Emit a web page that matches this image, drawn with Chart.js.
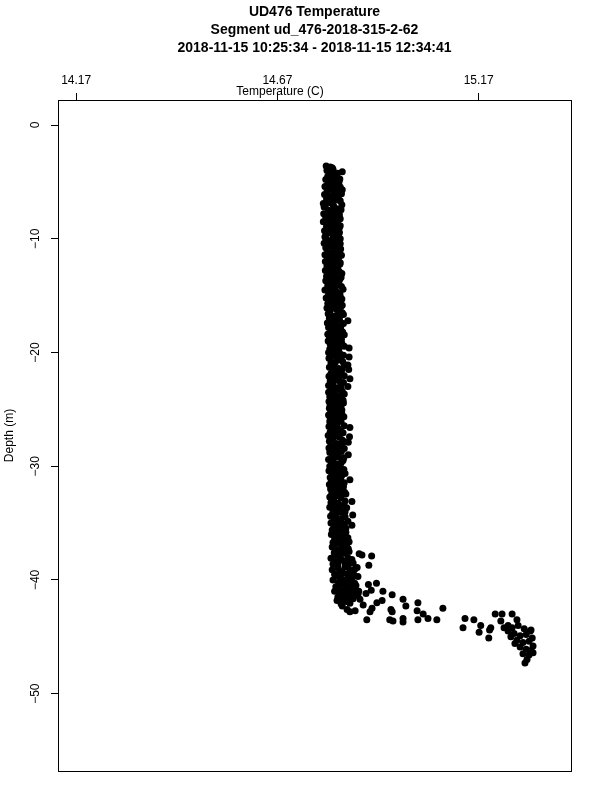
<!DOCTYPE html>
<html>
<head>
<meta charset="utf-8">
<script src="https://cdn.jsdelivr.net/npm/chart.js@4.4.0/dist/chart.umd.min.js"></script>
<style>
  html, body { margin: 0; padding: 0; background: #fff; }
</style>
</head>
<body>
<canvas id="profile" width="600" height="800"></canvas>
<script>
var titleLines = ["UD476 Temperature", "Segment ud_476-2018-315-2-62", "2018-11-15 10:25:34 - 2018-11-15 12:34:41"];
var xTicks = [14.17, 14.67, 15.17];
var yTicks = [0, -10, -20, -30, -40, -50];

// upper mixed layer
var colDepth = [
  -3.6, -3.7, -3.8, -3.9, -4.0, -4.1, -4.3, -4.4,
  -4.5, -4.6, -4.8, -4.9, -5.0, -5.1, -5.3, -5.4,
  -5.5, -5.6, -5.7, -5.9, -6.0, -6.1, -6.2, -6.4,
  -6.5, -6.6, -6.7, -6.9, -7.0, -7.1, -7.2, -7.4,
  -7.5, -7.6, -7.8, -7.9, -8.0, -8.1, -8.3, -8.4,
  -8.5, -8.6, -8.8, -8.9, -9.0, -9.1, -9.3, -9.4,
  -9.5, -9.6, -9.8, -9.9, -10.0, -10.1, -10.3, -10.4,
  -10.5, -10.6, -10.8, -10.9, -11.0, -11.2, -11.3, -11.4,
  -11.6, -11.7, -11.8, -12.0, -12.1, -12.2, -12.4, -12.5,
  -12.6, -12.8, -12.9, -13.0, -13.2, -13.3, -13.4, -13.6,
  -13.7, -13.8, -14.0, -14.1, -14.2, -14.4, -14.5, -14.6,
  -14.8, -14.9, -15.0, -15.2, -15.3, -15.4, -15.6, -15.7,
  -15.8, -16.0, -16.1, -16.2, -16.4, -16.5, -16.6, -16.8,
  -16.9, -17.0, -17.2, -17.3, -17.4, -17.6, -17.7, -17.8,
  -18.0, -18.1, -18.2, -18.4, -18.5, -18.6, -18.8, -18.9,
  -19.0, -19.2, -19.3, -19.4, -19.6, -19.7, -19.8, -20.0,
  -20.1, -20.2, -20.4, -20.5, -20.6, -20.8, -20.9, -21.0,
  -21.1, -21.3, -21.4, -21.5, -21.7, -21.8, -21.9, -22.1,
  -22.2, -22.3, -22.5, -22.6, -22.7, -22.9, -23.0, -23.1,
  -23.3, -23.4, -23.5, -23.7, -23.8, -23.9, -24.1, -24.2,
  -24.3, -24.5, -24.6, -24.7, -24.9, -25.0, -25.1, -25.3,
  -25.4, -25.5, -25.7, -25.8, -25.9, -26.1, -26.2, -26.3,
  -26.5, -26.6, -26.7, -26.9, -27.0, -27.1, -27.3, -27.4,
  -27.5, -27.7, -27.8, -27.9, -28.0, -28.2, -28.3, -28.4,
  -28.6, -28.7, -28.8, -29.0, -29.1, -29.2, -29.4, -29.5,
  -29.6, -29.8, -29.9, -30.0, -30.2, -30.3, -30.4, -30.6,
  -30.7, -30.8, -31.0, -31.1, -31.2, -31.4, -31.5, -31.6,
  -31.8, -31.9, -32.0, -32.2, -32.3, -32.4, -32.6, -32.7,
  -32.8, -33.0, -33.1, -33.2, -33.4, -33.5, -33.6, -33.8,
  -33.9, -34.0, -34.2, -34.3, -34.4, -34.6, -34.7, -34.8,
  -35.0, -35.1, -35.2, -35.4, -35.5, -35.6, -35.8, -35.9,
  -36.0, -36.2, -36.3, -36.4, -36.6, -36.7, -36.8, -37.0,
  -37.1, -37.2, -37.4, -37.5, -37.6, -37.7, -37.8, -37.9,
  -38.0, -38.1, -38.2, -38.4, -38.5, -38.6, -38.7, -38.9,
  -39.0, -39.1, -39.2, -39.4, -39.5, -39.6, -39.8, -39.9,
  -40.0, -40.1, -40.2, -40.4, -40.5, -40.6, -40.8, -40.9,
  -41.0, -41.1, -41.2, -41.3, -41.4, -41.5, -41.6, -41.7,
  -38.9, -39.3, -39.7, -40.3, -40.7, -41.0, -41.4, -41.9,
  -3.75, -4.05, -4.25, -4.55, -4.75, -5.05, -5.25, -5.45,
  -5.65, -5.85, -6.05, -6.25, -6.45, -6.65, -6.85, -7.05,
  -7.25, -7.45, -7.65, -7.85, -8.05, -8.25, -8.45, -8.65,
  -8.85, -9.05, -9.25, -9.45, -9.65, -9.85, -10.05, -10.25,
  -10.45, -10.65, -10.85, -11.05, -11.25, -11.45, -11.65, -11.85,
  -12.05, -12.25, -12.45, -12.65, -12.85, -13.05, -13.25, -13.45,
  -13.65, -13.85, -14.05, -14.25, -14.45, -14.65, -14.85, -15.05,
  -15.25, -15.45, -15.65, -15.85, -16.05, -16.25, -16.45, -16.65,
  -16.85, -17.05, -17.25, -17.45, -17.65, -17.85, -18.05, -18.25,
  -18.45, -18.65, -18.85, -19.05, -19.25, -19.45, -19.65, -19.85,
  -20.05, -20.25, -20.45, -20.65, -20.85, -21.05, -21.25, -21.45,
  -21.65, -21.85, -22.05, -22.25, -22.45, -22.65, -22.85, -23.05,
  -23.25, -23.45, -23.65, -23.85, -24.05, -24.25, -24.45, -24.65,
  -24.85, -25.05, -25.25, -25.45, -25.65, -25.85, -26.05, -26.25,
  -26.45, -26.65, -26.85, -27.05, -27.25, -27.45, -27.65, -27.85,
  -28.05, -28.25, -28.45, -28.65, -28.85, -29.05, -29.25, -29.45,
  -29.65, -29.85, -30.05, -30.25, -30.45, -30.65, -30.85, -31.05,
  -31.25, -31.45, -31.65, -31.85, -32.05, -32.25, -32.45, -32.65,
  -32.85, -33.05, -33.25, -33.45, -33.65, -33.85, -34.05, -34.25,
  -34.45, -34.65, -34.85, -35.05, -35.25, -35.45, -35.65, -35.85,
  -36.05, -36.25, -36.45, -36.65, -36.85, -37.05, -37.25, -37.45,
  -37.65, -37.85, -38.05, -38.25, -38.45, -38.65, -38.85, -39.05,
  -39.25, -39.45, -39.65, -39.85, -40.05, -40.25, -40.45, -40.65,
  -40.85, -41.05, -41.25, -41.45, -41.65, -41.85, -42.05, -41.25
];
var colTemp = [
  14.791, 14.801, 14.796, 14.808, 14.793, 14.831, 14.803, 14.812,
  14.795, 14.818, 14.790, 14.806, 14.823, 14.799, 14.811, 14.788,
  14.816, 14.802, 14.831, 14.794, 14.810, 14.787, 14.822, 14.805,
  14.792, 14.817, 14.800, 14.784, 14.830, 14.809, 14.786, 14.821,
  14.797, 14.812, 14.785, 14.824, 14.803, 14.790, 14.815, 14.798,
  14.784, 14.819, 14.806, 14.792, 14.824, 14.800, 14.787, 14.813,
  14.798, 14.822, 14.789, 14.809, 14.826, 14.794, 14.815, 14.786,
  14.804, 14.819, 14.790, 14.827, 14.808, 14.795, 14.816, 14.788,
  14.823, 14.799, 14.811, 14.789, 14.826, 14.803, 14.793, 14.817,
  14.807, 14.789, 14.824, 14.798, 14.813, 14.792, 14.828, 14.804,
  14.790, 14.819, 14.809, 14.795, 14.829, 14.801, 14.788, 14.815,
  14.825, 14.797, 14.810, 14.791, 14.830, 14.804, 14.818, 14.795,
  14.808, 14.827, 14.793, 14.816, 14.800, 14.831, 14.796, 14.812,
  14.822, 14.799, 14.845, 14.806, 14.794, 14.828, 14.813, 14.797,
  14.819, 14.803, 14.832, 14.795, 14.811, 14.825, 14.799, 14.816,
  14.796, 14.830, 14.807, 14.821, 14.848, 14.800, 14.814, 14.797,
  14.825, 14.808, 14.848, 14.798, 14.818, 14.832, 14.803, 14.811,
  14.845, 14.799, 14.822, 14.847, 14.806, 14.815, 14.829, 14.798,
  14.812, 14.850, 14.801, 14.826, 14.808, 14.797, 14.845, 14.819,
  14.803, 14.831, 14.797, 14.814, 14.824, 14.800, 14.809, 14.833,
  14.798, 14.818, 14.806, 14.828, 14.799, 14.813, 14.822, 14.802,
  14.830, 14.797, 14.815, 14.808, 14.826, 14.800, 14.819, 14.805,
  14.798, 14.850, 14.812, 14.827, 14.801, 14.818, 14.796, 14.849,
  14.809, 14.831, 14.799, 14.846, 14.816, 14.803, 14.825, 14.798,
  14.813, 14.829, 14.800, 14.846, 14.807, 14.820, 14.797, 14.833,
  14.804, 14.817, 14.826, 14.800, 14.811, 14.835, 14.798, 14.821,
  14.806, 14.830, 14.801, 14.816, 14.850, 14.809, 14.825, 14.799,
  14.834, 14.812, 14.802, 14.822, 14.837, 14.805, 14.817, 14.800,
  14.828, 14.810, 14.855, 14.803, 14.835, 14.819, 14.800, 14.826,
  14.808, 14.838, 14.815, 14.857, 14.802, 14.829, 14.811, 14.821,
  14.803, 14.836, 14.855, 14.814, 14.826, 14.806, 14.840, 14.818,
  14.804, 14.829, 14.845, 14.812, 14.835, 14.808, 14.822, 14.842,
  14.806, 14.831, 14.818, 14.848, 14.811, 14.873, 14.880, 14.904,
  14.826, 14.803, 14.855, 14.815, 14.838, 14.808, 14.897, 14.846,
  14.821, 14.806, 14.852, 14.833, 14.812, 14.860, 14.827, 14.843,
  14.808, 14.855, 14.822, 14.836, 14.865, 14.815, 14.848, 14.830,
  14.812, 14.858, 14.838, 14.826, 14.850, 14.820, 14.845, 14.834,
  14.868, 14.858, 14.870, 14.862, 14.853, 14.872, 14.862, 14.842,
  14.806, 14.798, 14.819, 14.803, 14.825, 14.809, 14.795, 14.826,
  14.793, 14.818, 14.829, 14.797, 14.812, 14.826, 14.803, 14.789,
  14.812, 14.828, 14.800, 14.789, 14.818, 14.826, 14.807, 14.795,
  14.826, 14.810, 14.801, 14.824, 14.808, 14.788, 14.815, 14.804,
  14.826, 14.796, 14.813, 14.822, 14.802, 14.829, 14.808, 14.794,
  14.816, 14.825, 14.799, 14.820, 14.809, 14.830, 14.801, 14.815,
  14.824, 14.800, 14.821, 14.812, 14.833, 14.798, 14.811, 14.826,
  14.813, 14.825, 14.805, 14.831, 14.810, 14.800, 14.822, 14.834,
  14.805, 14.824, 14.815, 14.834, 14.802, 14.827, 14.810, 14.822,
  14.836, 14.807, 14.829, 14.814, 14.801, 14.836, 14.823, 14.806,
  14.817, 14.834, 14.802, 14.826, 14.814, 14.836, 14.809, 14.831,
  14.818, 14.803, 14.836, 14.822, 14.812, 14.834, 14.805, 14.828,
  14.818, 14.808, 14.836, 14.812, 14.826, 14.816, 14.834, 14.801,
  14.824, 14.830, 14.812, 14.821, 14.835, 14.801, 14.828, 14.811,
  14.836, 14.820, 14.806, 14.833, 14.814, 14.824, 14.803, 14.836,
  14.827, 14.812, 14.836, 14.803, 14.822, 14.814, 14.835, 14.808,
  14.829, 14.806, 14.820, 14.826, 14.812, 14.838, 14.815, 14.827,
  14.804, 14.836, 14.819, 14.807, 14.829, 14.813, 14.840, 14.826,
  14.805, 14.838, 14.820, 14.810, 14.842, 14.816, 14.827, 14.806,
  14.838, 14.819, 14.845, 14.824, 14.810, 14.840, 14.830, 14.806,
  14.818, 14.840, 14.827, 14.848, 14.812, 14.832, 14.846, 14.824,
  14.836, 14.815, 14.845, 14.830, 14.852, 14.820, 14.838, 14.862,
  14.826, 14.845, 14.815, 14.855, 14.836, 14.848, 14.822, 14.840,
  14.860, 14.826, 14.846, 14.835, 14.858, 14.828, 14.850, 14.870
];

// thermocline and the warm bottom water
var tailDepth = [
  -38.5, -40.4, -40.3, -40.9, -41.0, -41.3, -41.7, -42.0,
  -42.5, -41.8, -42.3, -42.6, -42.8, -42.7, -43.0, -43.4,
  -43.5, -43.5, -43.4, -43.7, -43.5, -43.6, -43.5, -42.5,
  -42.8, -42.0, -41.7, -42.8, -42.7, -42.2, -41.2, -41.8,
  -42.1, -42.3, -42.6,
  -43.4, -43.5, -44.2, -44.0, -44.6, -44.2, -44.4, -45.1,
  -43.0, -43.0, -43.0, -43.6, -44.2, -44.0, -43.5, -44.0,
  -44.4, -44.2, -44.3, -44.5, -44.7, -44.9, -44.8, -45.1,
  -45.3, -45.5, -45.4, -45.8, -45.9, -46.1, -46.2, -46.5,
  -46.6, -46.4, -47.0, -47.3, -44.5, -45.0, -45.6
];
var tailTemp = [
  14.858, 14.896, 14.916, 14.903, 14.932, 14.955, 14.982, 15.019,
  15.081, 14.930, 14.989, 14.952, 14.955, 15.017, 15.032, 15.044,
  15.066, 15.019, 14.982, 14.982, 14.949, 14.957, 14.892, 14.905,
  14.900, 14.917, 14.875, 14.850, 14.863, 14.883, 14.890, 14.818,
  14.828, 14.831, 14.843,
  15.136, 15.158, 15.131, 15.175, 15.171, 15.200, 15.197, 15.195,
  15.211, 15.228, 15.253, 15.225, 15.233, 15.243, 15.265, 15.268,
  15.300, 15.253, 15.283, 15.298, 15.258, 15.273, 15.288, 15.303,
  15.265, 15.280, 15.295, 15.305, 15.273, 15.288, 15.300, 15.280,
  15.295, 15.305, 15.290, 15.285, 15.243, 15.250, 15.260
];

var fontFamily = "'Liberation Sans', Arial, Helvetica, sans-serif";

var points = [];
colDepth.forEach(function(d, i){ points.push({x: colTemp[i], y: d}); });
tailDepth.forEach(function(d, i){ points.push({x: tailTemp[i], y: d}); });

// R style frame plus the x axis label that sits under the tick labels
var framePlugin = {
  id: 'frame',
  afterDraw: function(chart){
    var a = chart.chartArea;
    var ctx = chart.ctx;
    ctx.save();
    ctx.strokeStyle = '#000';
    ctx.lineWidth = 1;
    ctx.strokeRect(Math.round(a.left) + 0.5, Math.round(a.top) + 0.5,
      Math.round(a.right - a.left), Math.round(a.bottom - a.top));
    ctx.fillStyle = '#000';
    ctx.font = '12px ' + fontFamily;
    ctx.textAlign = 'center';
    ctx.textBaseline = 'alphabetic';
    ctx.fillText('Temperature (C)', 280, 95);
    ctx.restore();
  }
};

new Chart(document.getElementById('profile'), {
  type: 'scatter',
  data: {
    datasets: [{
      data: points,
      backgroundColor: '#000',
      borderWidth: 0,
      pointRadius: 3.5,
      pointHoverRadius: 3.5
    }]
  },
  options: {
    responsive: false,
    animation: false,
    devicePixelRatio: 1,
    layout: { padding: { top: 0, left: 0, right: 29, bottom: 29 } },
    plugins: {
      legend: { display: false },
      tooltip: { enabled: false },
      title: {
        display: true,
        text: titleLines,
        color: '#000',
        fullSize: false,
        font: { family: fontFamily, size: 14, weight: 'bold', lineHeight: '18px' },
        padding: { top: 3, bottom: 0 }
      }
    },
    scales: {
      x: {
        type: 'linear',
        position: 'top',
        min: 14.1248,
        max: 15.3993,
        afterBuildTicks: function(s){ s.ticks = xTicks.map(function(v){ return {value: v}; }); },
        afterFit: function(s){ s.height = 43; },
        grid: { drawOnChartArea: false, drawTicks: true, tickLength: 7, color: '#000' },
        border: { display: false },
        ticks: {
          color: '#000',
          padding: 5,
          maxRotation: 0,
          font: { family: fontFamily, size: 12 },
          callback: function(v){ return v.toFixed(2); }
        }
      },
      y: {
        type: 'linear',
        min: -56.8,
        max: 2.2,
        afterBuildTicks: function(s){ s.ticks = yTicks.map(function(v){ return {value: v}; }); },
        afterFit: function(s){ s.width = 58; },
        grid: { drawOnChartArea: false, drawTicks: true, tickLength: 7, color: '#000' },
        border: { display: false },
        title: {
          display: true,
          text: 'Depth (m)',
          color: '#000',
          font: { family: fontFamily, size: 12 },
          padding: { top: 2, bottom: 0 }
        },
        ticks: {
          color: '#000',
          padding: 5,
          minRotation: 90,
          maxRotation: 90,
          crossAlign: 'center',
          font: { family: fontFamily, size: 12 },
          callback: function(v){ return v < 0 ? '\u2212' + Math.abs(v) : String(v); }
        }
      }
    }
  },
  plugins: [framePlugin]
});
</script>
</body>
</html>
